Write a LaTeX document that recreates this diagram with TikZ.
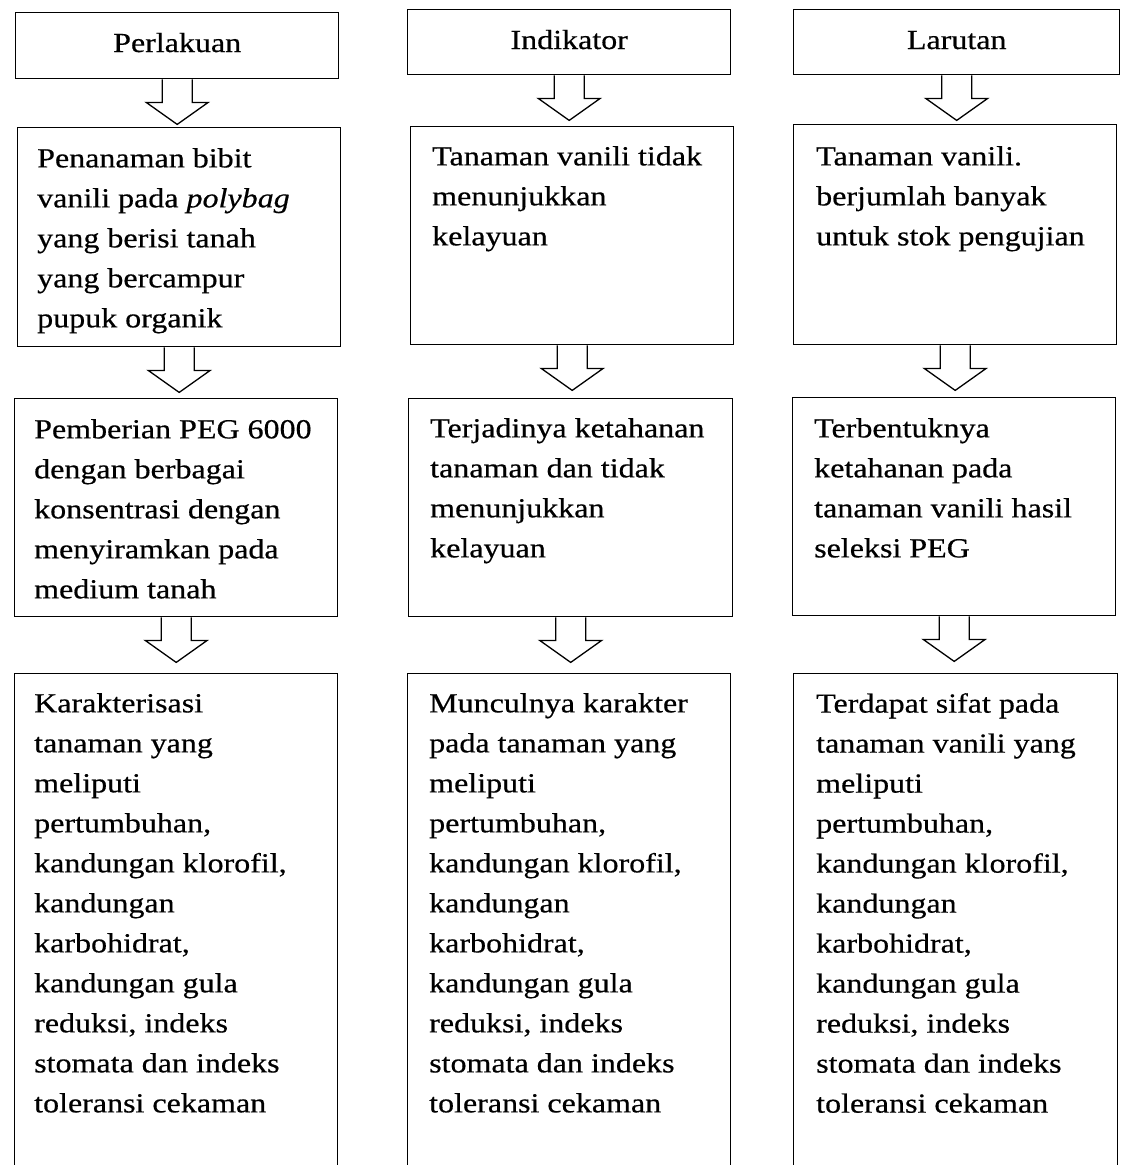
\documentclass[tikz,border=0pt]{standalone}
\usepackage{fontspec}
\setmainfont{Liberation Serif}[FakeStretch=1.16,FakeBold=0.5]
\usetikzlibrary{calc}
\tikzset{
  boxnode/.style={draw, line width=1.4pt, inner sep=0pt, anchor=north west},
  txt/.style={inner sep=0pt, anchor=north west, align=left, font=\fontsize{27.6}{40}\selectfont},
  titletxt/.style={inner sep=0pt, anchor=base, font=\fontsize{27.6}{40}\selectfont},
  arrowshape/.style={draw, line width=1.3pt, fill=white, line join=miter},
}
\newcommand{\blkarrow}[2]{%
  \draw[arrowshape] ($(#1.south)+(-15,0)$) -- ($(#1.south)+(-15,23)$) -- ($(#1.south)+(-31,23)$)
    -- ($(#1.south)!45pt!(#1.south |- #2.north)$)
    -- ($(#1.south)+(31,23)$) -- ($(#1.south)+(15,23)$) -- ($(#1.south)+(15,0)$);}
\begin{document}
\begin{tikzpicture}[x=1pt,y=-1pt]
\clip (0,0) rectangle (1120,1165);
\fill[white] (0,0) rectangle (1120,1165);
% column 1
\node[boxnode, minimum width=323pt, minimum height=66pt] (p0) at (15,12) {};
\node[boxnode, minimum width=323pt, minimum height=219pt] (p1) at (17,127) {};
\node[boxnode, minimum width=323pt, minimum height=218pt] (p2) at (14,398) {};
\node[boxnode, minimum width=323pt, minimum height=540pt] (p3) at (14,673) {};
% column 2
\node[boxnode, minimum width=323pt, minimum height=65pt] (i0) at (407,9) {};
\node[boxnode, minimum width=323pt, minimum height=218pt] (i1) at (410,126) {};
\node[boxnode, minimum width=324pt, minimum height=218pt] (i2) at (408,398) {};
\node[boxnode, minimum width=323pt, minimum height=540pt] (i3) at (407,673) {};
% column 3
\node[boxnode, minimum width=326pt, minimum height=65pt] (l0) at (793,9) {};
\node[boxnode, minimum width=323pt, minimum height=220pt] (l1) at (793,124) {};
\node[boxnode, minimum width=323pt, minimum height=218pt] (l2) at (792,397) {};
\node[boxnode, minimum width=324pt, minimum height=540pt] (l3) at (793,673) {};
% titles
\node[titletxt] (p0t) at ($(p0.north)+(0,40)$) {Perlakuan};
\node[titletxt] (i0t) at ($(i0.north)+(0,40)$) {Indikator};
\node[titletxt] (l0t) at ($(l0.north)+(0,40)$) {Larutan};
% texts
\node[txt] (p1t) at ($(p1.north west)+(20,21)$) {Penanaman bibit\\vanili pada \textit{polybag}\\yang berisi tanah\\yang bercampur\\pupuk organik};
\node[txt] (p2t) at ($(p2.north west)+(20,21)$) {Pemberian PEG 6000\\dengan berbagai\\konsentrasi dengan\\menyiramkan pada\\medium tanah};
\node[txt] (p3t) at ($(p3.north west)+(20,20)$) {Karakterisasi\\tanaman yang\\meliputi\\pertumbuhan,\\kandungan klorofil,\\kandungan\\karbohidrat,\\kandungan gula\\reduksi, indeks\\stomata dan indeks\\toleransi cekaman};
\node[txt] (i1t) at ($(i1.north west)+(22,20)$) {Tanaman vanili tidak\\menunjukkan\\kelayuan};
\node[txt] (i2t) at ($(i2.north west)+(22,20)$) {Terjadinya ketahanan\\tanaman dan tidak\\menunjukkan\\kelayuan};
\node[txt] (i3t) at ($(i3.north west)+(22,20)$) {Munculnya karakter\\pada tanaman yang\\meliputi\\pertumbuhan,\\kandungan klorofil,\\kandungan\\karbohidrat,\\kandungan gula\\reduksi, indeks\\stomata dan indeks\\toleransi cekaman};
\node[txt] (l1t) at ($(l1.north west)+(23,22)$) {Tanaman vanili.\\berjumlah banyak\\untuk stok pengujian};
\node[txt] (l2t) at ($(l2.north west)+(22,21)$) {Terbentuknya\\ketahanan pada\\tanaman vanili hasil\\seleksi PEG};
\node[txt] (l3t) at ($(l3.north west)+(23,20)$) {Terdapat sifat pada\\tanaman vanili yang\\meliputi\\pertumbuhan,\\kandungan klorofil,\\kandungan\\karbohidrat,\\kandungan gula\\reduksi, indeks\\stomata dan indeks\\toleransi cekaman};
% arrows
\blkarrow{p0}{p1}
\blkarrow{p1}{p2}
\blkarrow{p2}{p3}
\blkarrow{i0}{i1}
\blkarrow{i1}{i2}
\blkarrow{i2}{i3}
\blkarrow{l0}{l1}
\blkarrow{l1}{l2}
\blkarrow{l2}{l3}
\end{tikzpicture}
\end{document}
